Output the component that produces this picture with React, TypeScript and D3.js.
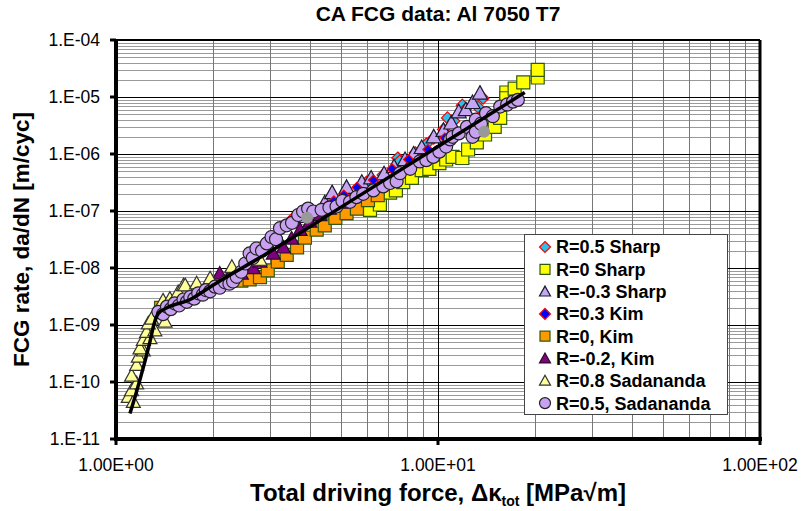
import React, { useEffect, useRef } from "react";
import * as d3 from "d3";

// [driving force K, da/dN]
const sharpR05: [number, number][] = [
  [3.55, 7.5e-8], [4.6, 1.5e-7], [5.2, 2.2e-7], [6.0, 3.2e-7], [6.75, 4.3e-7], [7.5, 8.5e-7],
  [7.6, 7.5e-7], [8.5, 1.05e-6], [9.2, 1.5e-6], [9.7, 1.9e-6], [10.4, 2.7e-6], [10.7, 4.3e-6],
  [11.2, 3.8e-6], [11.9, 7.2e-6], [12.2, 6.2e-6], [13.3, 6.7e-6], [13.8, 9.5e-6],
];
const sharpR0: [number, number][] = [
  [6.15, 1.05e-7], [6.6, 1.3e-7], [7.1, 2.1e-7], [7.4, 2.3e-7], [7.8, 3.2e-7], [8.3, 3.8e-7],
  [8.9, 5.2e-7], [9.4, 5.5e-7], [10.1, 6.9e-7], [10.6, 8.0e-7], [11.1, 8.9e-7], [11.9, 8.5e-7],
  [12.4, 1.2e-6], [13.2, 1.6e-6], [14.0, 2.2e-6], [15.0, 3.0e-6], [15.6, 4.3e-6], [16.3, 1.2e-5],
  [16.3, 9.5e-6], [17.3, 1.4e-5], [18.4, 1.8e-5], [20.4, 2.2e-5], [20.4, 3.0e-5],
];
const sharpRm03: [number, number][] = [
  [3.9, 8.0e-8], [4.45, 1.4e-7], [4.69, 2.1e-7], [5.2, 2.6e-7], [5.8, 3.2e-7], [6.2, 3.8e-7],
  [6.8, 4.5e-7], [7.3, 6.0e-7], [7.9, 8.0e-7], [8.4, 1.0e-6], [8.9, 1.3e-6], [9.7, 2.0e-6],
  [10.4, 2.6e-6], [11.0, 3.5e-6], [11.6, 5.5e-6], [12.2, 6.0e-6], [12.8, 8.0e-6], [13.5, 1.17e-5],
];
const kimR03: [number, number][] = [
  [4.3, 1.0e-7], [4.5, 1.2e-7], [4.75, 1.5e-7], [5.1, 1.9e-7], [5.6, 2.6e-7], [6.3, 3.5e-7],
  [7.2, 5.5e-7], [8.1, 8.0e-7], [9.3, 1.2e-6], [10.5, 1.9e-6],
];
const kimR0: [number, number][] = [
  [1.38, 2.0e-9], [2.3, 7.0e-9], [2.45, 6.0e-9], [2.6, 6.3e-9], [2.8, 6.9e-9], [2.96, 9.1e-9],
  [3.18, 1.3e-8], [3.39, 1.7e-8], [3.65, 2.3e-8], [3.86, 3.4e-8], [4.2, 4.7e-8], [4.45, 5.6e-8],
  [4.8, 7.6e-8], [5.2, 9.2e-8], [5.6, 1.1e-7], [6.06, 1.55e-7], [6.5, 1.9e-7],
];
const kimRm02: [number, number][] = [
  [2.1, 8.0e-9], [2.3, 9.0e-9], [2.45, 8.0e-9], [2.67, 1.0e-8], [2.8, 1.3e-8], [3.08, 1.8e-8],
  [3.31, 2.3e-8], [3.51, 3.3e-8], [3.73, 4.7e-8], [4.0, 6.5e-8], [4.3, 8.5e-8], [4.6, 1.1e-7],
  [5.0, 1.4e-7],
];
const sadR08: [number, number][] = [
  [1.092, 5.5e-11], [1.132, 4.5e-11], [1.118, 7.2e-11], [1.159, 9.5e-11], [1.118, 1.3e-10],
  [1.159, 2.0e-10], [1.173, 2.8e-10], [1.216, 3.6e-10], [1.187, 3.9e-10], [1.216, 5.5e-10],
  [1.275, 5.9e-10], [1.245, 7.6e-10], [1.32, 8.1e-10], [1.26, 1.07e-9], [1.29, 1.3e-9],
  [1.42, 1.15e-9], [1.40, 2.7e-9], [1.47, 2.9e-9], [1.56, 3.8e-9], [1.62, 5.0e-9], [1.64, 5.0e-9],
  [1.78, 5.4e-9], [1.96, 6.6e-9], [2.29, 1.05e-8], [2.8, 1.4e-8],
];
const sadR05: [number, number][] = [
  [1.354, 1.7e-9], [1.40, 1.55e-9], [1.44, 2.1e-9], [1.48, 1.9e-9], [1.52, 2.4e-9], [1.57, 2.2e-9],
  [1.62, 2.8e-9], [1.66, 2.55e-9], [1.70, 3.1e-9], [1.75, 2.9e-9], [1.80, 3.6e-9], [1.86, 3.4e-9],
  [1.90, 4.1e-9], [1.96, 3.9e-9], [2.03, 4.7e-9], [2.10, 4.5e-9], [2.18, 5.6e-9], [2.25, 5.3e-9],
  [2.31, 5.8e-9], [2.37, 7.0e-9], [2.45, 8.6e-9], [2.52, 1.2e-8], [2.60, 1.8e-8], [2.66, 1.5e-8],
  [2.73, 2.2e-8], [2.84, 2.0e-8], [2.94, 2.7e-8], [3.04, 3.5e-8], [3.14, 3.2e-8], [3.23, 5.0e-8],
  [3.39, 5.6e-8], [3.52, 6.2e-8], [3.68, 8.5e-8], [3.81, 9.8e-8], [3.95, 1.1e-7], [4.10, 9.8e-8],
  [4.35, 1.05e-7], [4.60, 1.15e-7], [4.84, 1.2e-7], [5.05, 1.5e-7], [5.33, 1.45e-7], [5.58, 1.75e-7],
  [5.86, 2.0e-7], [6.30, 2.3e-7], [6.76, 2.7e-7], [7.10, 3.1e-7], [7.44, 3.3e-7], [7.62, 4.6e-7],
  [8.2, 5.5e-7], [8.78, 7.4e-7], [9.2, 7.8e-7], [9.67, 8.9e-7], [10.1, 1.1e-6], [10.6, 1.35e-6],
  [10.9, 1.8e-6], [11.1, 2.0e-6], [11.6, 2.3e-6], [12.3, 3.0e-6], [12.8, 2.0e-6], [13.1, 2.45e-6],
  [13.1, 4.0e-6], [13.6, 3.4e-6], [14.1, 5.2e-6], [14.8, 4.6e-6], [15.6, 6.8e-6], [16.4, 7.4e-6],
  [17.1, 8.3e-6], [17.7, 8.9e-6],
];
const greyPoints: [number, number][] = [[3.92, 7.6e-8], [13.9, 2.45e-6]];

const trendK = [1.105, 1.146, 1.187, 1.23, 1.275, 1.31, 1.354, 1.44, 1.7, 2.0, 2.94, 5.0, 10, 18.6];
const trendRate = [2.8e-11, 5.5e-11, 1.1e-10, 2.3e-10, 5.1e-10, 1.0e-9, 1.6e-9, 2.0e-9, 2.8e-9, 5.0e-9, 1.8e-8, 1.17e-7, 1.35e-6, 1.2e-5];

const xTickVals = [1, 10, 100];
const xTickLabels = ["1.00E+00", "1.00E+01", "1.00E+02"];
const yTickVals = [1e-4, 1e-5, 1e-6, 1e-7, 1e-8, 1e-9, 1e-10, 1e-11];
const yTickLabels = ["1.E-04", "1.E-05", "1.E-06", "1.E-07", "1.E-08", "1.E-09", "1.E-10", "1.E-11"];

const series = [
  { name: "R=0.5 Sharp", data: sharpR05, shape: "diamond", fill: "#30BEE6", stroke: "#FF0000", size: 12 },
  { name: "R=0 Sharp", data: sharpR0, shape: "square", fill: "#FFFF00", stroke: "#2E5A12", size: 13 },
  { name: "R=-0.3 Sharp", data: sharpRm03, shape: "triangle", fill: "#C6A6F2", stroke: "#1A1A2E", size: 15 },
  { name: "R=0.3 Kim", data: kimR03, shape: "diamond", fill: "#0000FF", stroke: "#FF0000", size: 10 },
  { name: "R=0, Kim", data: kimR0, shape: "square", fill: "#FF9900", stroke: "#2E5A12", size: 13 },
  { name: "R=-0.2, Kim", data: kimRm02, shape: "triangle", fill: "#800080", stroke: "#2A0A2A", size: 14 },
  { name: "R=0.8 Sadananda", data: sadR08, shape: "triangle", fill: "#FFFF99", stroke: "#333333", size: 14 },
  { name: "R=0.5, Sadananda", data: sadR05, shape: "circle", fill: "#C8A2F0", stroke: "#222222", size: 13 },
];

const FONT = "'Liberation Sans', Arial, sans-serif";

function markerPath(shape: string, s: number) {
  const h = s / 2;
  if (shape === "square") return `M${-h},${-h}H${h}V${h}H${-h}Z`;
  if (shape === "diamond") return `M0,${-h}L${h},0L0,${h}L${-h},0Z`;
  if (shape === "triangle") return `M0,${-h}L${h},${h * 0.8}L${-h},${h * 0.8}Z`;
  return `M${h},0A${h},${h} 0 1,1 ${-h},0A${h},${h} 0 1,1 ${h},0Z`;
}

export default function App() {
  const ref = useRef<SVGSVGElement>(null);

  useEffect(() => {
    const svg = d3.select(ref.current);
    svg.selectAll("*").remove();

    const left = 116, right = 760, top = 40, bottom = 439;
    const x = d3.scaleLog().domain([1, 100]).range([left, right]);
    const y = d3.scaleLog().domain([1e-11, 1e-4]).range([bottom, top]);
    const isMajor = (t: number) => Math.abs(Math.log10(t) - Math.round(Math.log10(t))) < 1e-6;

    svg.append("rect").attr("width", 807).attr("height", 511).attr("fill", "#fff");

    // grid
    const grid = svg.append("g").attr("shape-rendering", "crispEdges");
    y.ticks().filter(t => !isMajor(t)).forEach(t => {
      grid.append("line").attr("x1", left).attr("x2", right)
        .attr("y1", Math.round(y(t)) + 0.5).attr("y2", Math.round(y(t)) + 0.5)
        .attr("stroke", "#9a9a9a").attr("stroke-width", 1);
    });
    x.ticks().filter(t => !isMajor(t)).forEach(t => {
      grid.append("line").attr("y1", top).attr("y2", bottom)
        .attr("x1", Math.round(x(t)) + 0.5).attr("x2", Math.round(x(t)) + 0.5)
        .attr("stroke", "#777").attr("stroke-width", 1);
    });
    y.ticks().filter(isMajor).forEach(t => {
      grid.append("line").attr("x1", left).attr("x2", right)
        .attr("y1", Math.round(y(t)) + 0.5).attr("y2", Math.round(y(t)) + 0.5)
        .attr("stroke", "#000").attr("stroke-width", 1);
    });
    x.ticks().filter(isMajor).forEach(t => {
      grid.append("line").attr("y1", top).attr("y2", bottom)
        .attr("x1", Math.round(x(t)) + 0.5).attr("x2", Math.round(x(t)) + 0.5)
        .attr("stroke", "#000").attr("stroke-width", 1);
    });

    // series
    series.forEach(s => {
      svg.append("g").selectAll("path").data(s.data).enter().append("path")
        .attr("d", markerPath(s.shape, s.size))
        .attr("transform", d => `translate(${x(d[0])},${y(d[1])})`)
        .attr("fill", s.fill).attr("stroke", s.stroke).attr("stroke-width", 1.2);
    });
    svg.append("g").selectAll("path").data(greyPoints).enter().append("path")
      .attr("d", markerPath("circle", 12))
      .attr("transform", d => `translate(${x(d[0])},${y(d[1])})`)
      .attr("fill", "#999").attr("stroke", "none");

    // trend line
    const trend = trendK.map((k, i) => [k, trendRate[i]] as [number, number]);
    svg.append("path").datum(trend)
      .attr("d", d3.line<[number, number]>().x(d => x(d[0])).y(d => y(d[1])).curve(d3.curveMonotoneX))
      .attr("fill", "none").attr("stroke", "#000").attr("stroke-width", 3.5);

    // frame
    svg.append("line").attr("x1", left).attr("x2", right).attr("y1", top).attr("y2", top).attr("stroke", "#000").attr("stroke-width", 2);
    svg.append("line").attr("x1", right).attr("x2", right).attr("y1", top).attr("y2", bottom).attr("stroke", "#000").attr("stroke-width", 3);
    svg.append("line").attr("x1", left).attr("x2", left).attr("y1", top - 1).attr("y2", bottom + 2).attr("stroke", "#000").attr("stroke-width", 4);
    svg.append("line").attr("x1", left - 2).attr("x2", right + 2).attr("y1", bottom).attr("y2", bottom).attr("stroke", "#000").attr("stroke-width", 4);

    // ticks + labels
    yTickVals.forEach((t, i) => {
      svg.append("line").attr("x1", left - 6).attr("x2", left).attr("y1", y(t)).attr("y2", y(t)).attr("stroke", "#000").attr("stroke-width", 3);
      svg.append("text").attr("x", left - 16).attr("y", y(t)).attr("dy", "0.35em")
        .attr("text-anchor", "end").attr("font-family", FONT).attr("font-size", 17.5).text(yTickLabels[i]);
    });
    xTickVals.forEach((t, i) => {
      svg.append("line").attr("x1", x(t)).attr("x2", x(t)).attr("y1", bottom).attr("y2", bottom + 6).attr("stroke", "#000").attr("stroke-width", 3);
      svg.append("text").attr("x", x(t)).attr("y", 471)
        .attr("text-anchor", "middle").attr("font-family", FONT).attr("font-size", 17.5).text(xTickLabels[i]);
    });

    // titles
    svg.append("text").attr("x", (left + right) / 2).attr("y", 21).attr("text-anchor", "middle")
      .attr("font-family", FONT).attr("font-weight", "bold").attr("font-size", 21).text("CA FCG data: Al 7050 T7");
    const xt = svg.append("text").attr("x", (left + right) / 2).attr("y", 501).attr("text-anchor", "middle")
      .attr("font-family", FONT).attr("font-weight", "bold").attr("font-size", 24);
    xt.append("tspan").text("Total driving force, \u0394\u03ba");
    xt.append("tspan").attr("dy", 5).attr("font-size", 14).text("tot");
    xt.append("tspan").attr("dy", -5).text(" [MPa\u221am]");
    svg.append("text").attr("transform", `translate(29,${(top + bottom) / 2}) rotate(-90)`).attr("text-anchor", "middle")
      .attr("font-family", FONT).attr("font-weight", "bold").attr("font-size", 22.5).text("FCG rate, da/dN [m/cyc]");

    // legend
    const lg = svg.append("g");
    lg.append("rect").attr("x", 524.5).attr("y", 234.5).attr("width", 203).attr("height", 180)
      .attr("fill", "#fff").attr("stroke", "#444").attr("stroke-width", 1);
    series.forEach((s, i) => {
      const cy = 247 + i * 22.3;
      lg.append("path").attr("d", markerPath(s.shape, s.shape === "square" ? 10 : 11))
        .attr("transform", `translate(545,${cy})`)
        .attr("fill", s.fill).attr("stroke", s.stroke).attr("stroke-width", 1.2);
      lg.append("text").attr("x", 556).attr("y", cy).attr("dy", "0.36em")
        .attr("font-family", FONT).attr("font-weight", "bold").attr("font-size", 18).text(s.name);
    });
  }, []);

  return (
    <div style={{ position: "absolute", left: 0, top: 0 }}>
      <svg ref={ref} width={807} height={511} style={{ display: "block" }} />
    </div>
  );
}
